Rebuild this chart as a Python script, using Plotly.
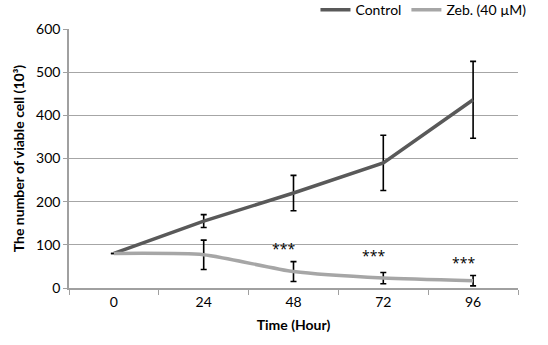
import plotly.graph_objects as go

hours = ["0", "24", "48", "72", "96"]
control = [80, 155, 220, 290, 436]
control_err = [0, 15, 41, 64, 89]
zeb = [80, 77, 38, 23, 17]
zeb_err = [0, 34, 23, 13, 12]
sig_labels = ["", "", "***", "***", "***"]
sig_y = [None, None, 92, 75, 59]

FONT = "Lato"

fig = go.Figure()
fig.add_trace(go.Scatter(
    x=hours, y=control, mode="lines", name="Control",
    line=dict(color="#595959", width=3.5),
    error_y=dict(type="data", array=control_err, visible=True,
                 color="black", thickness=1.6, width=3),
))
fig.add_trace(go.Scatter(
    x=hours, y=zeb, mode="lines", name="Zeb. (40 µM)",
    line=dict(color="#A6A6A6", width=3.5, shape="spline", smoothing=0.6),
    error_y=dict(type="data", array=zeb_err, visible=True,
                 color="black", thickness=1.6, width=3),
))

for i, (lab, yy) in enumerate(zip(sig_labels, sig_y)):
    if lab:
        fig.add_annotation(x=i, y=yy, xref="x", yref="y", text=lab, showarrow=False,
                           xshift=-10, font=dict(family="Open Sans", size=14, color="black"))

fig.update_layout(
    width=548, height=345,
    margin=dict(l=69, r=30, t=29, b=57, autoexpand=False),
    paper_bgcolor="white", plot_bgcolor="white",
    font=dict(family=FONT, size=14, color="black"),
    showlegend=True,
    legend=dict(orientation="h", x=1.03, xanchor="right", y=1.073, yanchor="middle",
                font=dict(family=FONT, size=14),
                itemwidth=30, tracegroupgap=0, bgcolor="rgba(0,0,0,0)"),
)

fig.update_xaxes(
    type="category", range=[-0.5, 4.5], tickson="boundaries",
    ticks="outside", ticklen=5, tickcolor="#A0A0A0",
    showline=True, linecolor="#A0A0A0", linewidth=1.5,
    showgrid=False, zeroline=False,
    tickfont=dict(family=FONT, size=14),
    title=dict(text="<b>Time (Hour)</b>", font=dict(family=FONT, size=14), standoff=12),
)
fig.update_yaxes(
    range=[0, 600], dtick=100,
    ticks="outside", ticklen=4, tickcolor="#A0A0A0",
    showline=True, linecolor="#A0A0A0", linewidth=1.5,
    showgrid=True, gridcolor="#A6A6A6", gridwidth=1,
    zeroline=False,
    tickfont=dict(family=FONT, size=14),
    title=dict(text="<b>The number of viable cell (10³)</b>", font=dict(family=FONT, size=14), standoff=8),
)

fig.write_html("out.html", config={"displayModeBar": False},
               post_script="document.body.style.margin='0';document.body.style.padding='0';")
